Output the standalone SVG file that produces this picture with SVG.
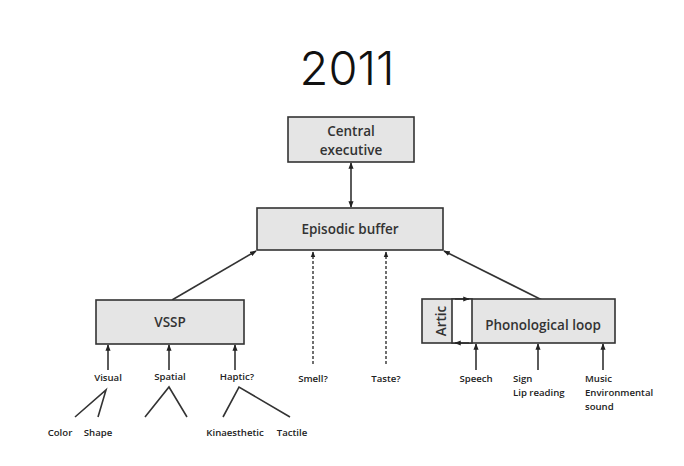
<svg xmlns="http://www.w3.org/2000/svg" width="684" height="466" viewBox="0 0 684 466">
<defs>
<marker id="ah" viewBox="0 0 10 10" refX="9" refY="5" markerWidth="4" markerHeight="4" orient="auto-start-reverse" markerUnits="strokeWidth">
<path d="M0,1 L10,5 L0,9 z" fill="#222"/>
</marker>
<style>
.box{fill:#e5e5e5;stroke:#333;stroke-width:1.6}
.wbox{fill:#fff;stroke:#333;stroke-width:1.6}
.lbl{font-family:"Open Sans","Liberation Sans",sans-serif;font-size:13.5px;font-weight:600;fill:#333;text-anchor:middle}
.sm{font-family:"Open Sans","Liberation Sans",sans-serif;font-size:9.6px;fill:#222;font-weight:600}
.c{text-anchor:middle}
.ln{stroke:#333;stroke-width:1.6;fill:none}
.ar{stroke:#333;stroke-width:1.6;fill:none;marker-end:url(#ah)}
.da{stroke:#333;stroke-width:1.4;fill:none;stroke-dasharray:3,2;marker-end:url(#ah)}
</style>
</defs>
<rect width="684" height="466" fill="#fff"/>
<text x="347" y="85" font-family="Inter,'Liberation Sans',sans-serif" font-weight="300" font-size="47" fill="#111" text-anchor="middle">2011</text>

<g id="connectors">
<line class="ar" x1="351" y1="185" x2="351" y2="163"/>
<line class="ar" x1="351" y1="185" x2="351" y2="207"/>
<line class="ar" x1="172" y1="300" x2="256" y2="251"/>
<line class="ar" x1="542" y1="300" x2="444" y2="251"/>
<line class="da" x1="313" y1="364" x2="313" y2="252"/>
<line class="da" x1="386" y1="364" x2="386" y2="252"/>
<line class="ar" x1="108" y1="370" x2="108" y2="345"/>
<line class="ar" x1="169" y1="370" x2="169" y2="345"/>
<line class="ar" x1="235" y1="370" x2="235" y2="345"/>
<line class="ar" x1="476" y1="370" x2="476" y2="344"/>
<line class="ar" x1="538" y1="370" x2="538" y2="344"/>
<line class="ar" x1="603" y1="370" x2="603" y2="344"/>
<polyline class="ln" points="75,417 106,390 98,417"/>
<polyline class="ln" points="145,417 169,387 187,417"/>
<polyline class="ln" points="223,417 239,387 290,417"/>
</g>

<g id="central-executive">
<rect class="box" x="288" y="117" width="126" height="45"/>
<text class="lbl" x="351" y="136">Central</text>
<text class="lbl" x="351" y="155">executive</text>
</g>

<g id="episodic-buffer">
<rect class="box" x="257" y="208" width="186" height="42"/>
<text class="lbl" x="350" y="234">Episodic buffer</text>
</g>

<g id="vssp">
<rect class="box" x="96" y="300" width="148" height="44"/>
<text class="lbl" x="170" y="327">VSSP</text>
</g>

<g id="phonological-loop">
<rect class="box" x="422" y="299" width="193" height="44"/>
<rect class="wbox" x="452" y="299" width="20" height="44"/>
<line class="ar" x1="455" y1="299" x2="469" y2="299"/>
<line class="ar" x1="469" y1="343" x2="455" y2="343"/>
<text class="lbl" x="0" y="0" transform="translate(441,321) rotate(-90)" dy="4.5" font-size="12">Artic</text>
<text class="lbl" x="543" y="330">Phonological loop</text>
</g>

<g id="labels">
<text class="sm c" x="108" y="381">Visual</text>
<text class="sm c" x="170" y="380">Spatial</text>
<text class="sm c" x="237" y="380">Haptic?</text>
<text class="sm c" x="313" y="382">Smell?</text>
<text class="sm c" x="386" y="382">Taste?</text>
<text class="sm c" x="476" y="382">Speech</text>
<text class="sm" x="513" y="382">Sign</text>
<text class="sm" x="513" y="396">Lip reading</text>
<text class="sm" x="585" y="382">Music</text>
<text class="sm" x="585" y="396">Environmental</text>
<text class="sm" x="585" y="410">sound</text>
<text class="sm c" x="60" y="436">Color</text>
<text class="sm c" x="98" y="436">Shape</text>
<text class="sm c" x="235" y="436">Kinaesthetic</text>
<text class="sm c" x="292" y="436">Tactile</text>
</g>
</svg>
